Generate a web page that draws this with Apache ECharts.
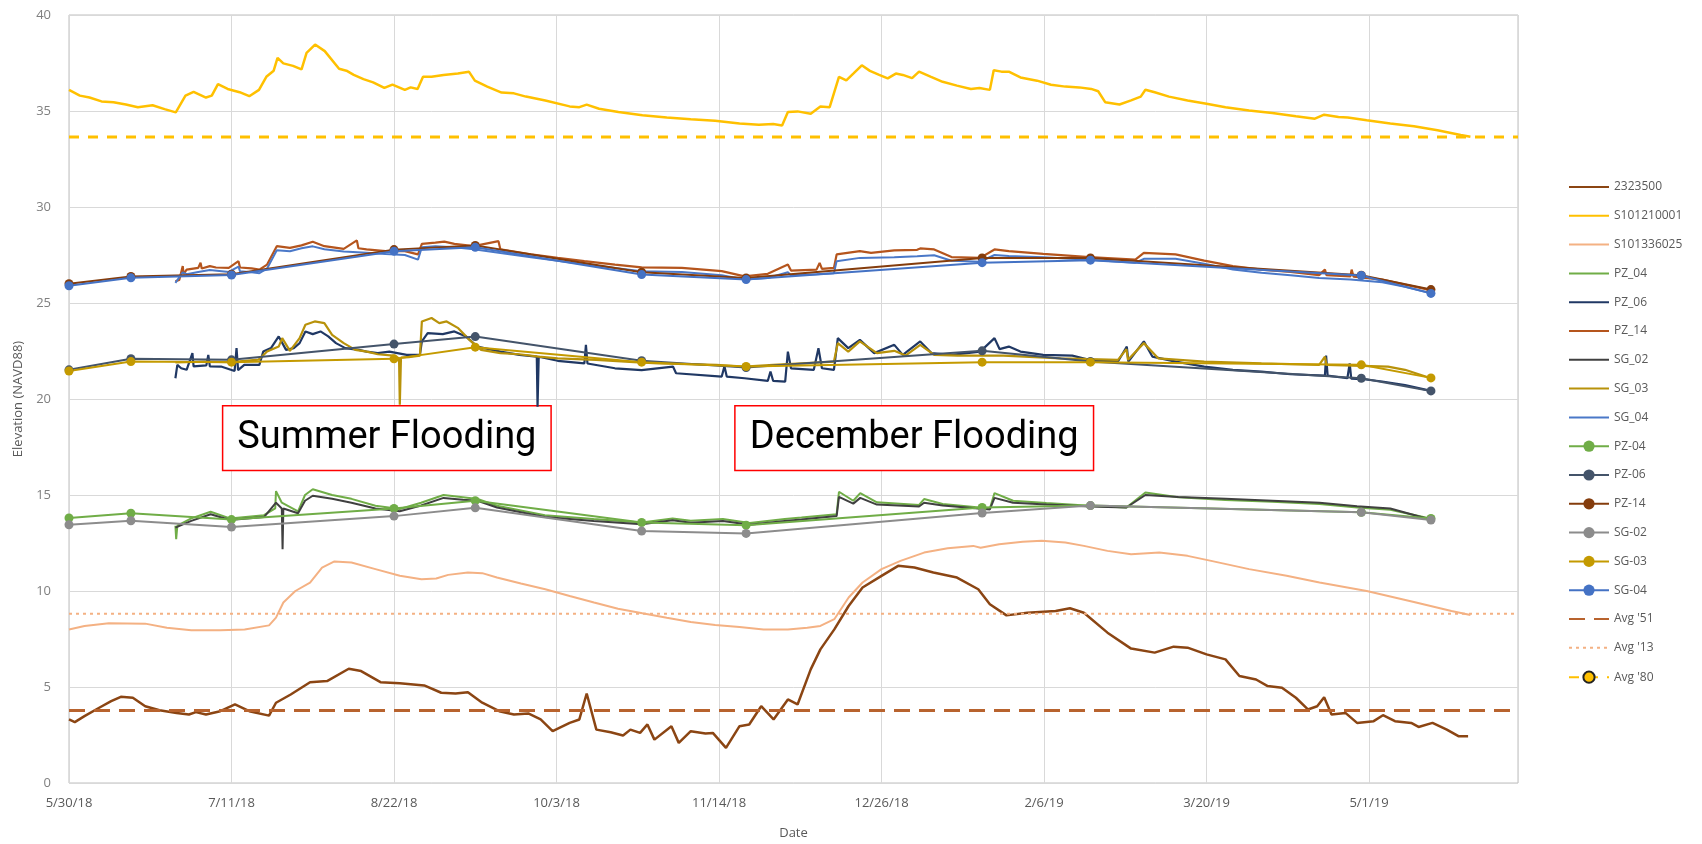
<!DOCTYPE html>
<html>
<head>
<meta charset="utf-8">
<title>Elevation (NAVD88)</title>
<script src="https://cdn.jsdelivr.net/npm/echarts/dist/echarts.min.js"></script>
<style>
  html, body { margin: 0; padding: 0; background: #fff; }
  #chart { width: 1702px; height: 844px; }
</style>
</head>
<body>
<div id="chart"></div>
<script>
// x values are days counted from 5/30/18 (the first date label)
const START = Date.UTC(2018, 4, 30);
const DAY = 86400000;
const xTickStep = 42;
const xMaxDay = 374.5;
const yMin = 0, yMax = 40, yStep = 5;

// river gauge 2323500
const gauge2323500 = [[0,3.31],[1.5,3.17],[4,3.48],[7.8,3.92],[10.9,4.26],[13.4,4.49],[16.5,4.44],[19.7,4.0],[23.4,3.79],[27.8,3.65],[31,3.57],[32.8,3.69],[35.4,3.57],[39.1,3.74],[42.9,4.09],[46.6,3.74],[51.7,3.51],[53.5,4.18],[57.3,4.61],[62.3,5.25],[66.7,5.31],[72.3,5.95],[75.5,5.83],[80.5,5.25],[85.5,5.19],[91.8,5.08],[96.2,4.7],[99.9,4.66],[103.1,4.73],[106.8,4.18],[111.2,3.74],[115,3.57],[118.7,3.62],[121.9,3.31],[125,2.7],[129.4,3.13],[131.9,3.31],[133.8,4.66],[136.3,2.78],[140,2.64],[143.2,2.47],[145.1,2.78],[147.6,2.61],[149.5,3.05],[151.3,2.26],[155.7,2.96],[157.6,2.09],[160.7,2.7],[164.5,2.58],[166.4,2.61],[169.8,1.83],[173.3,2.96],[175.8,3.05],[178.9,4.0],[182.1,3.31],[185.8,4.35],[188.3,4.09],[191.7,5.92],[194.2,6.96],[197.8,8.0],[201.5,9.22],[205.1,10.18],[210,10.79],[214.3,11.31],[218.5,11.22],[223.4,10.96],[229.5,10.7],[235,10.09],[238,9.31],[242.3,8.73],[247.7,8.87],[255,8.96],[258.7,9.1],[262.3,8.87],[268.4,7.83],[274.5,7.0],[280.6,6.79],[285.5,7.1],[289.1,7.05],[294,6.7],[298.9,6.44],[302.5,5.57],[306.8,5.39],[309.8,5.05],[313.5,4.96],[317.1,4.44],[320.2,3.83],[322.6,4.0],[324.4,4.47],[326.3,3.57],[329.9,3.65],[332.9,3.13],[337.2,3.22],[339.6,3.53],[342.7,3.22],[346.9,3.13],[348.8,2.92],[352.4,3.13],[356.1,2.78],[359.1,2.44],[361.6,2.44]];

// well S101210001
const well210001 = [[0,36.1],[2.8,35.8],[5.3,35.7],[8.4,35.5],[11.5,35.46],[14.7,35.34],[17.8,35.2],[21.6,35.3],[24.7,35.1],[27.6,34.93],[30.1,35.8],[32.2,36.0],[35.4,35.7],[36.9,35.8],[38.5,36.4],[41,36.15],[44.1,35.98],[46.6,35.77],[49.1,36.1],[51,36.78],[52.9,37.1],[53.9,37.77],[55.4,37.48],[57.9,37.35],[60.1,37.17],[61.4,38.03],[63.6,38.46],[66.1,38.12],[69.8,37.2],[71.7,37.1],[73.6,36.88],[76.1,36.66],[78.6,36.49],[81.5,36.2],[83.6,36.37],[86.8,36.1],[88.3,36.23],[90.1,36.15],[91.5,36.78],[93.7,36.78],[96.8,36.88],[100.5,36.95],[103.4,37.04],[104.9,36.58],[108.1,36.27],[111.8,35.96],[115,35.92],[118.1,35.75],[123.1,35.55],[129.4,35.24],[131.9,35.2],[133.8,35.33],[137,35.12],[142,34.95],[148.2,34.78],[154.5,34.66],[160.7,34.57],[167,34.49],[173.3,34.35],[178.3,34.28],[182,34.32],[184.3,34.25],[185.8,34.95],[188.3,34.98],[191.7,34.86],[194.2,35.24],[196.6,35.2],[199,36.78],[200.9,36.6],[202.7,36.95],[204.9,37.38],[207,37.09],[209.4,36.88],[211.6,36.7],[213.7,36.95],[215.5,36.88],[217.9,36.71],[219.7,37.05],[222.8,36.78],[225.8,36.52],[229.5,36.32],[233.1,36.15],[235.3,36.2],[238,36.1],[239,37.12],[241,37.05],[242.9,37.05],[245.9,36.75],[250.2,36.58],[253.8,36.37],[257.5,36.27],[261.1,36.23],[264.2,36.15],[266,36.03],[267.8,35.46],[271.5,35.34],[274.5,35.55],[277,35.75],[278.2,36.11],[280.6,35.98],[284.3,35.75],[289.1,35.55],[294,35.38],[298.9,35.2],[305,35.03],[311,34.9],[317.1,34.73],[322,34.6],[324.4,34.81],[328.1,34.69],[330.5,34.66],[335.4,34.52],[341.5,34.35],[347.6,34.21],[353.7,34.0],[359.7,33.75],[362.2,33.66]];

// well S101336025
const well336025 = [[0,8.0],[4,8.18],[10.3,8.32],[19.7,8.3],[25.3,8.09],[31.6,7.95],[39.1,7.95],[45.4,8.0],[51.7,8.21],[53.5,8.61],[55.4,9.4],[58.5,10.0],[62.3,10.44],[65.4,11.22],[68.6,11.54],[73,11.48],[79.2,11.14],[85.5,10.79],[91.1,10.61],[94.9,10.65],[98,10.84],[103.1,10.96],[106.8,10.93],[110.6,10.7],[116.8,10.39],[123.1,10.09],[129.4,9.74],[135.7,9.4],[141.9,9.08],[148.2,8.84],[154.5,8.61],[160.7,8.39],[167,8.23],[173.3,8.13],[179.5,8.0],[185.8,8.0],[190.8,8.09],[194.2,8.18],[197.8,8.53],[201.5,9.66],[205.1,10.44],[210,11.14],[214.9,11.57],[221,12.0],[227.1,12.23],[233.7,12.35],[235.6,12.25],[240.4,12.44],[246.5,12.56],[251.4,12.62],[257.5,12.53],[262.3,12.35],[268.4,12.09],[274.5,11.92],[281.8,12.0],[289.1,11.83],[295.2,11.57],[305,11.14],[314.7,10.79],[323.2,10.44],[335.4,10.0],[347.6,9.43],[357.3,8.96],[362.2,8.75]];

// logger records
const pz04Logger = [[27.5,13.4],[27.7,12.7],[28,13.4],[31.6,13.78],[36.6,14.13],[41.6,13.78],[50.4,13.95],[53.3,14.3],[53.5,15.2],[55,14.6],[59.2,14.15],[61,15.0],[63,15.3],[68,15.0],[73,14.8],[79.2,14.44],[85.5,14.27],[91,14.6],[96.8,15.0],[101.8,14.88],[105.6,14.79],[110.6,14.44],[123,13.95],[135.6,13.75],[148,13.57],[156,13.78],[160.7,13.66],[169,13.75],[175.9,13.54],[185,13.75],[189.3,13.83],[198.4,14.0],[199,15.17],[202.7,14.7],[204.5,15.1],[208.8,14.62],[219.7,14.48],[221,14.79],[225.8,14.53],[238,14.3],[239.2,15.1],[244,14.7],[252.6,14.58],[263.8,14.44],[273.3,14.35],[278.2,15.13],[286.7,14.88],[298.9,14.74],[311,14.65],[323.2,14.53],[332.9,14.35],[341.5,14.23],[351.8,13.78]];
const pz06Logger = [[27.5,21.08],[28,21.78],[29,21.6],[30.4,21.52],[31.9,22.39],[32.2,21.7],[35.5,21.75],[36,22.3],[36.4,21.7],[39.3,21.69],[42.8,21.46],[43.3,22.65],[43.7,21.5],[45.3,21.78],[49.2,21.78],[50.2,22.47],[52.2,22.65],[54.2,23.26],[56.1,22.56],[58.1,22.65],[59.6,22.91],[61.1,23.52],[63,23.38],[65,23.52],[67,23.26],[69,22.91],[71.4,22.65],[74.9,22.56],[76.9,22.47],[79.8,22.39],[82.8,22.47],[87.3,22.3],[90.7,22.3],[91.2,23.0],[92.7,23.43],[96.6,23.38],[99.6,23.52],[102.6,23.26],[105.5,22.73],[111.5,22.47],[116.4,22.3],[120.9,22.21],[121.1,19.6],[121.4,22.2],[126.3,21.99],[133.2,21.86],[133.6,22.82],[134,21.85],[141.1,21.6],[148,21.5],[156.1,21.69],[156.9,21.34],[168.7,21.17],[169.4,21.7],[170,21.17],[174.6,21.08],[180.6,20.94],[181.3,21.43],[182,20.94],[185.1,20.91],[185.8,22.47],[186.6,21.6],[192.5,21.52],[193.7,22.65],[194.6,21.6],[197.7,21.52],[198.7,23.17],[201.4,22.65],[204.4,23.08],[208.1,22.39],[213.3,22.82],[215.5,22.3],[220,23.0],[222.9,22.39],[228.1,22.3],[235.5,22.47],[239.2,23.17],[240.5,22.6],[242.9,22.73],[245.9,22.47],[251.8,22.3],[259.3,22.26],[263.7,22.04],[271.1,21.95],[273.4,22.73],[273.8,21.95],[277.8,23.0],[280,22.21],[286,21.95],[293.4,21.69],[300.8,21.52],[308.2,21.43],[315.7,21.29],[324.6,21.22],[324.9,22.26],[325.3,21.22],[330.4,21.08],[331,21.85],[331.4,21.06],[334.2,21.04],[339.4,20.91],[345.3,20.73],[352,20.42]];
const pz14Logger = [[27.5,26.13],[28.5,26.2],[29.4,26.92],[29.6,26.5],[30.4,26.74],[33.4,26.83],[34,27.1],[34.3,26.8],[36.4,26.92],[38,26.85],[41.3,26.83],[43.8,27.18],[44.2,26.85],[47.2,26.8],[49.2,26.74],[51.2,27.0],[53.7,27.96],[57.1,27.87],[60.1,28.0],[63,28.19],[66,27.96],[71,27.82],[74.4,28.26],[74.8,27.85],[76.9,27.79],[81.8,27.7],[86.8,27.7],[90.2,27.53],[91.2,28.08],[94.7,28.14],[97,28.2],[99.6,28.08],[104.6,27.96],[111,28.22],[111.5,27.79],[119.4,27.53],[126.3,27.35],[133.2,27.18],[141.1,27.0],[148,26.86],[158.4,26.83],[168.7,26.66],[174.6,26.39],[180.6,26.52],[185.8,27.0],[186.6,26.69],[193.2,26.74],[194,27.09],[194.6,26.78],[197.7,26.83],[198.4,27.53],[204.4,27.7],[207.3,27.61],[213.3,27.74],[219.2,27.77],[220,27.84],[223.6,27.79],[228.1,27.39],[235.5,27.35],[239.2,27.79],[242.9,27.7],[251.8,27.56],[263.7,27.39],[275.6,27.26],[277.8,27.61],[286,27.53],[293.4,27.21],[300.8,26.92],[308.2,26.74],[315.7,26.62],[323.1,26.45],[324.6,26.74],[325,26.45],[331.2,26.39],[331.5,26.74],[332,26.37],[339.4,26.22],[345.3,25.96],[351.3,25.7]];
const sg02Logger = [[27.5,13.3],[31.6,13.65],[36.6,14.0],[41.6,13.7],[50.4,13.85],[53.5,14.6],[55,14.3],[55.2,12.18],[55.4,14.3],[59.2,14.05],[61,14.7],[63,14.96],[68,14.8],[73,14.6],[79.2,14.3],[85.5,14.15],[91,14.45],[96.8,14.85],[101.8,14.75],[105.6,14.7],[110.6,14.35],[123,13.85],[135.6,13.65],[148,13.48],[156,13.68],[160.7,13.56],[169,13.65],[175.9,13.45],[185,13.65],[189.3,13.72],[198.4,13.9],[199,14.9],[202.7,14.55],[204.5,14.85],[208.8,14.5],[219.7,14.4],[221,14.6],[225.8,14.45],[238,14.25],[239.2,14.85],[244,14.6],[252.6,14.5],[263.8,14.4],[273.3,14.35],[278.2,15.0],[286.7,14.9],[298.9,14.8],[311,14.7],[323.2,14.6],[332.9,14.42],[341.5,14.3],[351.8,13.72]];
const sg03Logger = [[27.5,21.9],[35,21.95],[42,21.92],[49,22.05],[51.2,22.47],[54.2,22.73],[55.1,23.17],[57.1,22.51],[59.6,23.17],[61.1,23.87],[63.5,24.04],[66,23.95],[68,23.34],[71,22.91],[74,22.56],[77,22.47],[79.8,22.33],[83.8,22.26],[85.3,22.12],[85.5,19.7],[85.8,22.15],[87.8,22.18],[90.7,22.26],[91.2,24.04],[93.7,24.22],[95.7,23.95],[97.6,24.04],[100.6,23.69],[103.5,23.08],[106.5,22.56],[111.5,22.39],[116.4,22.33],[121.4,22.21],[126.3,22.12],[136.2,22.04],[146,21.92],[152.4,21.86],[167.3,21.78],[174.6,21.69],[182,21.78],[189.5,21.86],[197.7,21.95],[198.7,22.91],[201.4,22.47],[204.4,23.0],[208.8,22.39],[213.3,22.51],[216.2,22.26],[220,22.82],[223.6,22.3],[229.6,22.26],[241.5,22.26],[256.3,22.12],[271.1,22.04],[273.3,22.6],[273.7,22.04],[277.8,22.91],[281.5,22.12],[293.4,21.95],[308.2,21.86],[323.1,21.78],[324.6,22.2],[325,21.78],[340.9,21.69],[345.3,21.52],[352,21.08]];
const sg04Logger = [[27.5,26.05],[29.4,26.6],[30.4,26.5],[33.4,26.62],[36.4,26.72],[41.3,26.62],[43.8,26.9],[44.2,26.65],[47.2,26.6],[49.2,26.55],[51.2,26.8],[53.7,27.75],[57.1,27.7],[60.1,27.85],[63,27.95],[66,27.8],[71,27.68],[76.9,27.62],[81.8,27.55],[86.8,27.5],[90.2,27.26],[91.2,27.9],[94.7,27.95],[99.6,27.9],[104.6,27.8],[111.5,27.6],[119.4,27.38],[126.3,27.2],[133.2,27.02],[141.1,26.82],[148,26.66],[158.4,26.62],[168.7,26.45],[174.6,26.22],[180.6,26.3],[185.8,26.6],[186.6,26.45],[193.2,26.5],[197.7,26.55],[198.4,27.18],[204.4,27.35],[213.3,27.38],[219.2,27.44],[223.6,27.49],[228.1,27.2],[235.5,27.15],[239.2,27.5],[242.9,27.45],[251.8,27.38],[263.7,27.25],[275.6,27.1],[277.8,27.3],[286,27.3],[293.4,27.05],[300.8,26.75],[308.2,26.58],[315.7,26.45],[323.1,26.3],[331.2,26.22],[339.4,26.08],[345.3,25.85],[351.3,25.55]];

// manual readings
const manualDays = [0, 16, 42, 84, 105, 148, 175, 236, 264, 334, 352];
const pz04Manual = [13.8, 14.05, 13.72, 14.3, 14.7, 13.57, 13.43, 14.35, 14.45, 14.1, 13.78];
const pz06Manual = [21.52, 22.1, 22.04, 22.86, 23.25, 21.99, 21.64, 22.51, 21.95, 21.08, 20.42];
const pz14Manual = [26.0, 26.38, 26.5, 27.78, 28.0, 26.6, 26.3, 27.35, 27.35, 26.45, 25.7];
const sg02Manual = [13.45, 13.66, 13.33, 13.9, 14.33, 13.12, 13.0, 14.06, 14.45, 14.1, 13.7];
const sg03Manual = [21.46, 21.95, 21.92, 22.09, 22.7, 21.92, 21.69, 21.92, 21.92, 21.78, 21.1];
const sg04Manual = [25.9, 26.31, 26.46, 27.7, 27.9, 26.48, 26.22, 27.1, 27.23, 26.43, 25.5];

// long-term averages
const avg51 = 3.78;
const avg13 = 8.82;
const avg80 = 33.65;

// annotation boxes: [text, fromDay, toDay, topValue, bottomValue]
const notes = [
  ['Summer Flooding', 39.7, 124.6, 19.65, 16.27],
  ['December Flooding', 172.1, 264.8, 19.65, 16.27],
];

const fmtDate = (d) => {
  const t = new Date(START + d * DAY);
  return (t.getUTCMonth() + 1) + '/' + t.getUTCDate() + '/' + String(t.getUTCFullYear()).slice(2);
};

const pairs = (days, vals) => days.map((d, i) => [d, vals[i]]);
const flat = (v) => [[0, v], [xMaxDay, v]];

// opacity 0 on itemStyle hides the legend dot for plain lines
const logger = (name, data, color, width) => ({
  name, type: 'line', data, symbol: 'none', z: 2,
  lineStyle: { color, width: width || 2 }, itemStyle: { color, opacity: 0 },
});
const manual = (name, vals, color) => ({
  name, type: 'line', data: pairs(manualDays, vals), symbol: 'circle', symbolSize: 9, z: 3,
  lineStyle: { color, width: 2 }, itemStyle: { color },
});

const chart = echarts.init(document.getElementById('chart'));

const option = {
  animation: false,
  backgroundColor: '#fff',
  textStyle: { fontFamily: 'Open Sans' },
  grid: {
    left: 69, right: 184, top: 15, bottom: 61,
    show: true, borderColor: '#BFBFBF', borderWidth: 1,
    outerBoundsMode: 'none',
  },
  legend: {
    orient: 'vertical',
    left: 1563, top: 176,
    itemWidth: 40, itemHeight: 14, itemGap: 16.8,
    textStyle: { fontSize: 12, color: '#595959', fontFamily: 'Open Sans' },
  },
  xAxis: {
    type: 'value',
    min: 0, max: xMaxDay, interval: xTickStep,
    name: 'Date', nameLocation: 'middle', nameGap: 44,
    nameTextStyle: { fontSize: 13, color: '#595959' },
    axisLine: { show: false },
    axisTick: { show: false },
    axisLabel: { formatter: fmtDate, fontSize: 13, color: '#595959', margin: 14, showMaxLabel: false },
    splitLine: { show: true, lineStyle: { color: '#D9D9D9', width: 1 } },
  },
  yAxis: {
    type: 'value',
    min: yMin, max: yMax, interval: yStep,
    name: 'Elevation (NAVD88)', nameLocation: 'middle', nameGap: 42,
    nameTextStyle: { fontSize: 13, color: '#595959' },
    axisLine: { show: false },
    axisTick: { show: false },
    axisLabel: { fontSize: 13, color: '#7F7F7F', margin: 18 },
    splitLine: { lineStyle: { color: '#D9D9D9', width: 1 } },
  },
  series: [
    logger('2323500', gauge2323500, '#8B4513', 2.5),
    logger('S101210001', well210001, '#FFC000', 2.5),
    logger('S101336025', well336025, '#F4B183', 2),
    logger('PZ_04', pz04Logger, '#70AD47'),
    logger('PZ_06', pz06Logger, '#203864', 2.2),
    logger('PZ_14', pz14Logger, '#B5551D', 2.2),
    logger('SG_02', sg02Logger, '#404040'),
    logger('SG_03', sg03Logger, '#B8920A', 2.2),
    logger('SG_04', sg04Logger, '#4A78C8'),
    manual('PZ-04', pz04Manual, '#70AD47'),
    manual('PZ-06', pz06Manual, '#44546A'),
    manual('PZ-14', pz14Manual, '#843C0C'),
    manual('SG-02', sg02Manual, '#8C8C8C'),
    manual('SG-03', sg03Manual, '#C49A00'),
    manual('SG-04', sg04Manual, '#4472C4'),
    {
      name: "Avg '51", type: 'line', data: flat(avg51), symbol: 'none', z: 4,
      lineStyle: { color: '#B8632E', width: 3, type: [16, 9] }, itemStyle: { color: '#B8632E', opacity: 0 },
    },
    {
      name: "Avg '13", type: 'line', data: flat(avg13), symbol: 'none', z: 4,
      lineStyle: { color: '#F4B183', width: 2, type: [3, 4] }, itemStyle: { color: '#F4B183', opacity: 0 },
    },
    {
      name: "Avg '80", type: 'line', data: flat(avg80), symbol: 'circle', symbolSize: 8, showSymbol: false, z: 4,
      lineStyle: { color: '#FFC000', width: 3, type: [10, 9] },
      itemStyle: { color: '#FFC000', borderColor: '#222', borderWidth: 2 },
    },
  ],
};

chart.setOption(option);

// annotation boxes placed through the chart's own scales
const graphics = [];
notes.forEach(([text, d0, d1, vTop, vBot]) => {
  const p0 = chart.convertToPixel({ gridIndex: 0 }, [d0, vTop]);
  const p1 = chart.convertToPixel({ gridIndex: 0 }, [d1, vBot]);
  graphics.push({
    type: 'group', z: 100,
    children: [
      {
        type: 'rect',
        shape: { x: p0[0], y: p0[1], width: p1[0] - p0[0], height: p1[1] - p0[1] },
        style: { fill: '#fff', stroke: '#FF0000', lineWidth: 1.5 },
      },
      {
        type: 'text',
        style: {
          text, x: (p0[0] + p1[0]) / 2, y: (p0[1] + p1[1]) / 2,
          align: 'center', verticalAlign: 'middle',
          font: '38px Roboto', fill: '#000',
        },
      },
    ],
  });
});
chart.setOption({ graphic: graphics });

window.addEventListener('resize', chart.resize);
</script>
</body>
</html>
